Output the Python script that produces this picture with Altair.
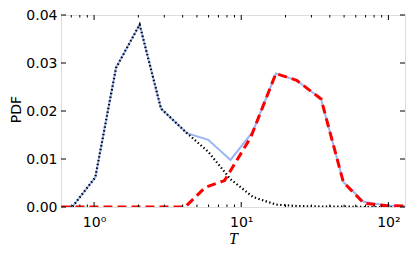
import altair as alt
import pandas as pd

# --- data ---
x_total = [0.6, 0.71, 1.02, 1.41, 2.04, 2.85, 4.27, 5.97, 8.45, 12.0, 17.2, 23.8, 34.9, 49.4, 68.0, 96.0, 130.0]
y_total = [0, 0, 0.0062, 0.029, 0.038, 0.0205, 0.0154, 0.014, 0.0098, 0.0157, 0.0278, 0.0264, 0.0225, 0.0052, 0.0011, 0.0003, 0.0002]
y_low = [0, 0, 0.0062, 0.029, 0.038, 0.0205, 0.0154, 0.0115, 0.0058, 0.0021, 0.0005, 0.0002, 0.0001, 0.0001, 0, 0, 0]
x_high = [0.6, 0.71, 1.02, 1.41, 2.04, 2.85, 4.16, 5.7, 7.7, 11.6, 17.2, 23.8, 34.9, 49.4, 68.0, 96.0, 130.0]
y_high = [0, 0, 0, 0, 0, 0, 0, 0.0041, 0.0055, 0.0145, 0.0278, 0.0264, 0.0225, 0.0052, 0.0008, 0.0003, 0.0002]

x_major = [1, 10, 100]
x_minor = [0.7, 0.8, 0.9, 2, 3, 4, 5, 6, 7, 8, 9, 20, 30, 40, 50, 60, 70, 80, 90]
y_ticks = [0.0, 0.01, 0.02, 0.03, 0.04]

W, H = 344, 192
XDOM = [0.596, 129.7]
YDOM = [0.0, 0.04]

xs = alt.Scale(type="log", domain=XDOM, nice=False)
ys = alt.Scale(domain=YDOM, nice=False, zero=False)

df_total = pd.DataFrame({"T": x_total, "pdf": y_total})
df_low = pd.DataFrame({"T": x_total, "pdf": y_low})
df_high = pd.DataFrame({"T": x_high, "pdf": y_high})
df_major = pd.DataFrame({"T": x_major})
df_minor = pd.DataFrame({"T": x_minor})
df_yt = pd.DataFrame({"v": y_ticks})

x_axis = alt.Axis(
    values=x_major,
    labelExpr="datum.value == 1 ? '10⁰' : datum.value == 10 ? '10¹' : '10²'",
    ticks=False, grid=False, domain=False,
    labelFont="DejaVu Sans", labelFontSize=14, labelColor="black",
    labelPadding=8, labelFlush=False,
    title="T", titleFont="Liberation Serif", titleFontStyle="italic",
    titleFontWeight="normal", titleFontSize=16, titleColor="black",
    titleY=36, titleBaseline="alphabetic",
)
y_axis = alt.Axis(
    values=y_ticks, format=".2f",
    ticks=False, grid=False, domain=False,
    labelFont="DejaVu Sans", labelFontSize=14, labelColor="black",
    labelPadding=4, labelFlush=False,
    title="PDF", titleFont="DejaVu Sans", titleFontWeight="normal",
    titleFontSize=14, titleColor="black",
    titleX=-45, titleY=H / 2 - 2, titleBaseline="middle", titleAlign="center",
)

total = alt.Chart(df_total).mark_line(color="#9bb5f5", strokeWidth=2, clip=True).encode(
    x=alt.X("T:Q", scale=xs, axis=x_axis),
    y=alt.Y("pdf:Q", scale=ys, axis=y_axis),
)
low = alt.Chart(df_low).mark_line(color="black", strokeWidth=2.2, strokeDash=[1.4, 2.4], clip=True).encode(
    x=alt.X("T:Q", scale=xs), y=alt.Y("pdf:Q", scale=ys)
)
high = alt.Chart(df_high).mark_line(color="red", strokeWidth=3, strokeDash=[9, 5], clip=True).encode(
    x=alt.X("T:Q", scale=xs), y=alt.Y("pdf:Q", scale=ys)
)

tick_col = "black"
maj_bot = alt.Chart(df_major).mark_rule(color=tick_col, strokeWidth=1).encode(
    x=alt.X("T:Q", scale=xs), y=alt.value(H), y2=alt.value(H - 5))
maj_top = alt.Chart(df_major).mark_rule(color=tick_col, strokeWidth=1).encode(
    x=alt.X("T:Q", scale=xs), y=alt.value(0), y2=alt.value(5))
min_bot = alt.Chart(df_minor).mark_rule(color=tick_col, strokeWidth=1).encode(
    x=alt.X("T:Q", scale=xs), y=alt.value(H), y2=alt.value(H - 2.5))
min_top = alt.Chart(df_minor).mark_rule(color=tick_col, strokeWidth=1).encode(
    x=alt.X("T:Q", scale=xs), y=alt.value(0), y2=alt.value(2.5))
yt_left = alt.Chart(df_yt).mark_rule(color=tick_col, strokeWidth=1).encode(
    y=alt.Y("v:Q", scale=ys), x=alt.value(0), x2=alt.value(5))
yt_right = alt.Chart(df_yt).mark_rule(color=tick_col, strokeWidth=1).encode(
    y=alt.Y("v:Q", scale=ys), x=alt.value(W), x2=alt.value(W - 5))

chart = alt.layer(
    total, low, high, maj_bot, maj_top, min_bot, min_top, yt_left, yt_right
).properties(
    width=W, height=H,
    padding={"left": 53, "top": 7, "right": 2, "bottom": 40},
    autosize=alt.AutoSizeParams(type="none"),
).configure_view(
    stroke="black", strokeWidth=1.2
).configure(background="white")

chart.save("out.html", embed_options={"renderer": "svg", "actions": False})
